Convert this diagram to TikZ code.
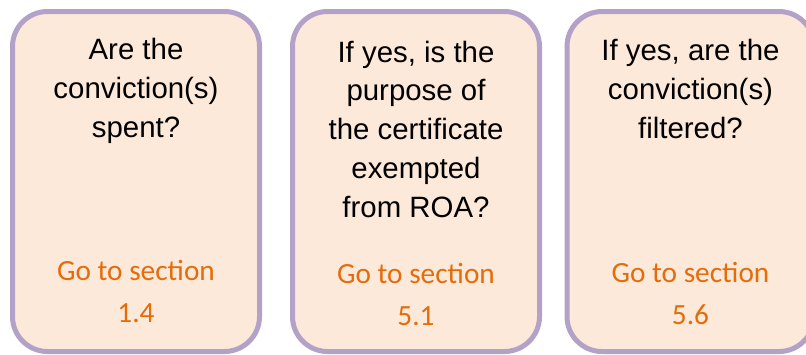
\documentclass[tikz,border=0pt]{standalone}
\usepackage{fontspec}
\setmainfont{Liberation Sans}
\newfontfamily\gotofont{Carlito}
\definecolor{cardline}{HTML}{B3A2C7}
\definecolor{cardfill}{HTML}{FDE9D9}
\definecolor{gotoorange}{HTML}{E46C0A}
\tikzset{
	card/.style={draw=cardline, fill=cardfill, line width=5pt, rounded corners=35pt,
		minimum width=247pt, minimum height=340pt, inner sep=0pt},
	question/.style={align=center, inner sep=0pt, anchor=base,
		font=\fontsize{29.4pt}{38.7pt}\selectfont},
	goto/.style={align=center, inner sep=0pt, anchor=base, text=gotoorange,
		font=\gotofont\fontsize{29.3pt}{42pt}\selectfont}
}
\begin{document}
\begin{tikzpicture}[x=1pt, y=-1pt]
			%%%%% START %%%%%
			\useasboundingbox (0, 0) rectangle (806, 354);
			
			\node[card] (card1) at (136, 181.5) {};
			\node[card] (card2) at (416, 181.5) {};
			\node[card] (card3) at (690.5, 181.5) {};
			
			% base anchor sits on the last line
			\node[question] (spent) at (136, 137) {Are the\\conviction(s)\\spent?};
			\node[goto] (sec14) at (136, 322) {Go to section\\1.4};
			
			\node[question] (exempt) at (416, 217) {If yes, is the\\purpose of\\the certificate\\exempted\\from ROA?};
			\node[goto] (sec51) at (416, 325) {Go to section\\5.1};
			
			\node[question] (filtered) at (690.5, 138) {If yes, are the\\conviction(s)\\filtered?};
			\node[goto] (sec56) at (690.5, 324) {Go to section\\5.6};
			%%%%% END %%%%%
\end{tikzpicture}
\end{document}
